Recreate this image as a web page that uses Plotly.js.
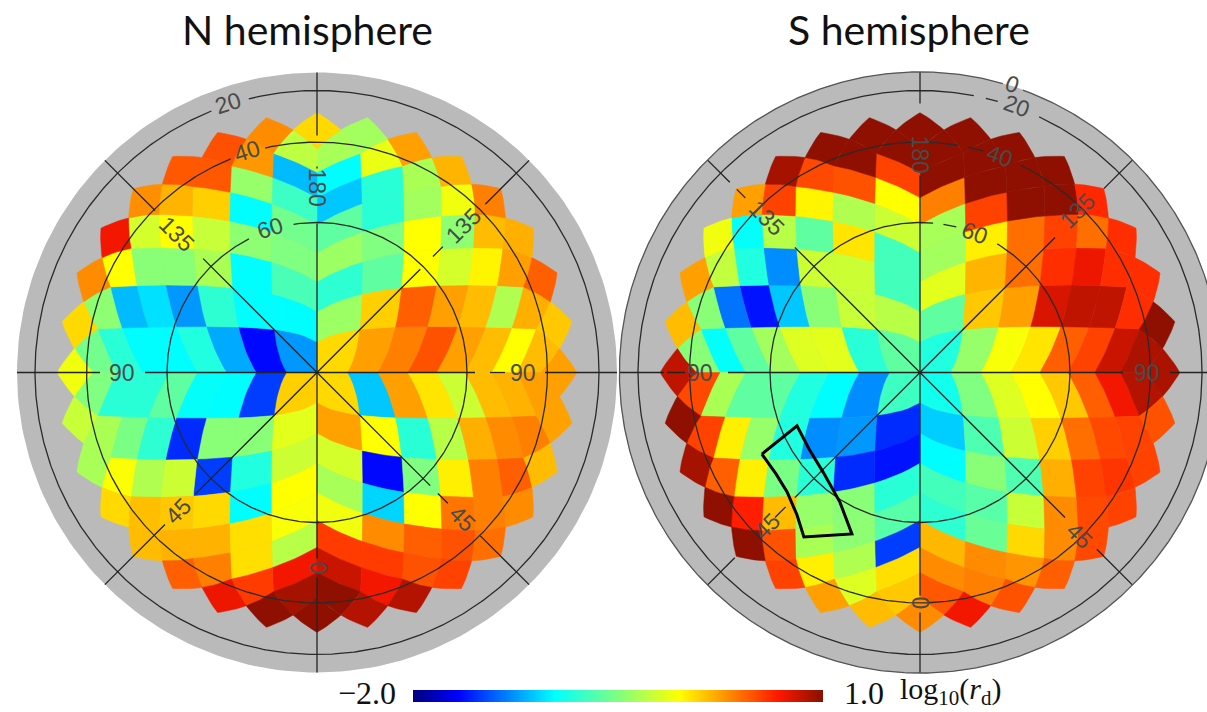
<!DOCTYPE html><html><head><meta charset="utf-8"><script src="https://cdn.plot.ly/plotly-3.0.1.min.js"></script></head><body style="margin:0;overflow:hidden;background:#fff"><div id="g" style="width:1207px;height:712px"></div><script>
// log10(r_d) per map cell, rows outward from the horizontal axis, columns outward from the vertical axis
const nNW=[[-1.25,-1.65,-1.2,-.85,-.97,-.97,-.82,-.55],[-.97,-.97,-.8,-1.25,-1.05,-1.15,-.45,.07],[-.7,-.97,-.35,-.47,-.47,-.05,.31],[-.5,-.45,-.25,-.05,-.2,.7],[-.55,-.97,.1,.18,.3],[-.75,-.42,.47,.47],[-1.15,.27,.5],[-.28,.31]];
const nNE=[[.07,.25,.35,.49,.25,.16,-.05,.16],[-.4,.1,.45,.25,.16,-.33,.2,.12],[-.8,-.62,-.05,-.2,-.02,.25,.45],[-.4,-.5,-.05,-.45,.16,.2],[-.62,-.82,-.38,-.1,.35],[-1.12,-.82,-.35,.18],[-.97,-.12,.25],[-.36,-.38]];
const nSW=[[.1,-1.5,-.97,-.95,-.62,-.82,-.82,-.5],[-.15,-.47,-.47,-1.55,-.8,-.52,-.35,-.25],[-.23,-.85,-1.5,-.23,-.33,-.06,-.36],[-.05,-.97,.07,.12,.15,.07],[-.07,.05,.19,.19,.16],[-.3,.05,.35,.45],[.7,.56,.72],[.92,.98]];
const nSE=[[.07,-1.12,.25,.03,-.23,.16,.19,.25],[.24,-.05,-.82,-.3,.2,.31,.35,.24],[-.2,-1.65,-.5,0,.35,.45,.16],[-.36,-1.08,-.05,.38,.35,.31],[-.1,.31,.45,.49,.4],[.56,.56,.49,.54],[.82,.7,.88],[.98,.88]];
const nTips=[.07,.25,.98,-.1]; // top, right, bottom, left
const sNW=[[-.62,-.82,-.15,-.17,-.38,-.62,-.95,-.47],[-.3,-.25,-.47,-1.12,-1.62,-1.35,-.47,.16],[-.72,-.23,-.23,-1.28,-.85,-.27,.25],[-.72,.03,-.62,-.3,-.95,-.1],[-.23,-.33,-.02,.54,.25],[-.05,.49,.52,.92],[.54,.98,.98],[.98,.98]];
const sNE=[[-.85,-.42,-.07,.03,.45,.54,.82,.9],[-.62,.12,.25,.78,.85,.85,.6,.98],[-.15,.18,.4,.6,.72,.6,.6],[-.38,0,.4,.54,.4,.6],[-.36,.54,.98,.98,.62],[.35,.98,.98,.98],[.98,.98,.98],[.98,.98]];
const sSW=[[-.74,-1.28,-.97,-.85,-.62,-.62,-.35,.52],[-1.55,-1.25,-1.28,-.85,-.42,0,.54,.98],[-1.62,-1.55,-.82,-.52,0,.45,.92],[-.82,-.47,-.42,.16,.65,.98],[-.65,-.45,-.35,.49,.98],[-1.5,-.33,0,.54],[.05,-.17,.25],[.12,.16]];
const sSE=[[-.9,-.5,-.17,-.05,.12,.45,.7,.88],[-1.1,-.68,-.23,.1,.4,.52,.54,.49],[-.97,-.47,-.68,.2,.54,.58,.54],[-.72,-.65,-.25,.31,.52,.54],[-.8,-.58,.07,.31,.52],[.17,.31,.28,.45],[.31,.35,.49],[.47,.7]];
const sTips=[.98,.9,.31,.85];
const jetStops=[[0,'#00007f'],[.11,'#0000ff'],[.345,'#00ffff'],[.5,'#80ff80'],[.65,'#ffff00'],[.89,'#ff1800'],[1,'#881000']];
const boxX=[-.527,-.48,-.443,-.41,-.387,-.227,-.267,-.323,-.37,-.41,-.527];
const boxY=[-.272,-.338,-.398,-.475,-.548,-.538,-.432,-.332,-.255,-.178,-.272];
const vMin=-2,vMax=1;

const PI=Math.PI;
function hex(c){return [1,3,5].map(i=>parseInt(c.substr(i,2),16));}
function colorOf(v){const t=(v-vMin)/(vMax-vMin);for(let i=1;i<jetStops.length;i++){if(t<=jetStops[i][0]){const f=(t-jetStops[i-1][0])/(jetStops[i][0]-jetStops[i-1][0]);const A=hex(jetStops[i-1][1]),B=hex(jetStops[i][1]);return 'rgb('+A.map((a,k)=>Math.round(a+(B[k]-a)*f)).join(',')+')';}}return jetStops[jetStops.length-1][1];}
// HEALPix (Nside 8) plane -> orthographic polar view
function inv(xs,ys){let phi,z;if(ys>PI/4){const f=ys>=PI/2-1e-9?0:(ys-PI/4)/(ys-PI/2);phi=xs-f*(xs-PI/4);z=1-Math.pow(2-4*ys/PI,2)/3;}else{phi=xs;z=8*ys/(3*PI);}const r=Math.sqrt(1-z*z);return [r*Math.cos(phi),r*Math.sin(phi)];}
function pt(p,q){return [PI/4+(q-p)*PI/32,PI/2-(p+q)*PI/32];}
function sample(corners,fn){const X=[],Y=[];for(let i=0;i<corners.length-1;i++){for(let t=0;t<8;t++){const u=corners[i][0]+(corners[i+1][0]-corners[i][0])*t/8,v=corners[i][1]+(corners[i+1][1]-corners[i][1])*t/8;const P=fn(u,v);X.push(P[0]);Y.push(P[1]);}}X.push(X[0]);Y.push(Y[0]);return [X,Y];}
const traces=[];
function poly(X,Y,v,ax){traces.push({type:'scatter',x:X,y:Y,xaxis:ax[0],yaxis:ax[1],mode:'lines',fill:'toself',fillcolor:colorOf(v),line:{color:colorOf(v),width:.5},hoverinfo:'skip'});}
function quadrant(rows,sx,sy,ax){rows.forEach((row,b)=>row.forEach((v,a)=>{const [X,Y]=sample([[a,b],[a+1,b],[a+1,b+1],[a,b+1],[a,b]],(p,q)=>{const s=pt(p,q);return inv(s[0],s[1]);});poly(X.map(u=>u*sx),Y.map(u=>u*sy),v,ax);}));}
const d=PI/32,e=PI/4;
const tipC=[[0,e],[d,e-d],[0,e-2*d],[-d,e-d],[0,e]];
function tips(vals,ax){const fns=[(P)=>[P[1],P[0]],(P)=>[P[0],P[1]],(P)=>[P[1],-P[0]],(P)=>[-P[0],P[1]]];vals.forEach((v,i)=>{const [X,Y]=sample(tipC,(u,w)=>fns[i](inv(u,w)));poly(X,Y,v,ax);});}
function disk(rad,ax){const X=[],Y=[];for(let i=0;i<=240;i++){const t=i/240*2*PI;X.push(rad*Math.cos(t));Y.push(rad*Math.sin(t));}traces.push({type:'scatter',x:X,y:Y,xaxis:ax[0],yaxis:ax[1],mode:'lines',fill:'toself',fillcolor:'#bababa',line:{color:'#bababa',width:0},hoverinfo:'skip'});}
function arcs(r,gaps,ax,col){const X=[],Y=[];for(let a=0;a<=360;a+=.5){const g=gaps.some(h=>a>h[0]&&a<h[1]);X.push(g?null:r*Math.cos(a*PI/180));Y.push(g?null:r*Math.sin(a*PI/180));}traces.push({type:'scatter',x:X,y:Y,xaxis:ax[0],yaxis:ax[1],mode:'lines',line:{color:col||'#2a2a2a',width:1.3},hoverinfo:'skip',connectgaps:false});}
function spoke(ang,segs,ax){const c=Math.cos(ang*PI/180),s=Math.sin(ang*PI/180),X=[],Y=[];segs.forEach(g=>{X.push(g[0]*c,g[1]*c,null);Y.push(g[0]*s,g[1]*s,null);});traces.push({type:'scatter',x:X,y:Y,xaxis:ax[0],yaxis:ax[1],mode:'lines',line:{color:'#222',width:1.3},hoverinfo:'skip'});}
const A=['x','y'],B=['x2','y2'],P=300;
const f=px=>px/P;
// North panel
disk(1,A);[[nNE,1,1],[nNW,-1,1],[nSW,-1,-1],[nSE,1,-1]].forEach(q=>quadrant(q[0],q[1],q[2],A));tips(nTips,A);
arcs(.94,[[104,112]],A);arcs(.768,[[103,112]],A);arcs(.5,[[99,117]],A);
spoke(0,[[0,f(158)],[f(173),f(188)],[f(228),1]],A);spoke(180,[[0,f(172)],[f(217),1]],A);
spoke(90,[[0,f(149)],[f(204),f(206)],[f(237),1]],A);spoke(270,[[0,f(186)],[f(205),1]],A);
spoke(135,[[0,f(161)],[f(229),1]],A);spoke(45,[[0,f(146)],[f(164),f(178)],[f(238),1]],A);
spoke(315,[[0,f(160)],[f(171),f(185)],[f(231),1]],A);spoke(225,[[0,f(172)],[f(215),1]],A);
// South panel
disk(1.003,B);[[sNE,1,1],[sNW,-1,1],[sSW,-1,-1],[sSE,1,-1]].forEach(q=>quadrant(q[0],q[1],q[2],B));tips(sTips,B);
arcs(1.002,[[70,74]],B,'#555');arcs(.94,[[65,74],[76.5,79]],B);arcs(.768,[[64,74],[78,80.5]],B);arcs(.5,[[59,76],[81,85]],B);
spoke(0,[[0,f(203)],[f(250),1]],B);spoke(180,[[0,f(192)],[f(235),f(253)],[f(256),1]],B);
spoke(90,[[0,f(197)],[f(269),1]],B);spoke(270,[[0,f(223)],[f(240),1]],B);
spoke(135,[[0,f(177)],[f(247),f(259)],[f(269),1]],B);spoke(45,[[0,f(191)],[f(260),1]],B);
spoke(225,[[0,f(177)],[f(190),f(205)],[f(262),1]],B);spoke(315,[[0,f(205)],[f(250),1]],B);
traces.push({type:'scatter',x:boxX,y:boxY,xaxis:'x2',yaxis:'y2',mode:'lines',line:{color:'#000',width:3},hoverinfo:'skip'});
// colour bar
traces.push({type:'scatter',x:[9,9],y:[9,9],xaxis:'x',yaxis:'y',mode:'markers',hoverinfo:'skip',marker:{color:[vMin,vMax],cmin:vMin,cmax:vMax,colorscale:jetStops,showscale:true,colorbar:{orientation:'h',x:618/1207,xanchor:'center',xref:'paper',y:1-696/712,yanchor:'middle',yref:'paper',len:410,lenmode:'pixels',thickness:12,thicknessmode:'pixels',outlinewidth:0,showticklabels:false,ticks:'',xpad:0,ypad:0,bgcolor:'rgba(0,0,0,0)'}}});
const W=1207,H=712,cxN=317,cxS=920,cy=372.5,split=617.5;
function lab(text,x,y,rot,ax){return {text,x,y,xref:ax[0],yref:ax[1],textangle:rot,showarrow:false,font:{family:'Liberation Sans',size:23,color:'#4a4a4a'}};}
const ann=[
['20',-89,270,-18,A],['40',-70,222,-18,A],['60',-47,145,-18,A],['180',0,185,90,A],['0',1,-195,90,A],
['135',-140,139,45,A],['135',146,147,-45,A],['45',-139,-138,-45,A],['45',146,-146,45,A],['90',-195,0,0,A],['90',206,0,0,A],
['0',92,289,20,B],['20',97,267,20,B],['40',80,217,20,B],['60',55,140,20,B],['180',0,218,90,B],['0',0,-230,90,B],
['135',-153,155,45,B],['135',157,162,-45,B],['45',-153,-153,-45,B],['45',160,-163,45,B],['90',-220,0,0,B],['90',227,0,0,B]
].map(a=>lab(a[0],a[1]/P,a[2]/P,a[3],a[4]));
const px=(x,y,text,size,fam,anchor)=>({text,x:x/W,y:1-y/H,xref:'paper',yref:'paper',xanchor:anchor||'center',yanchor:'middle',showarrow:false,font:{family:fam,size,color:'#111'}});
ann.push(px(307.5,29,'N hemisphere',41,'Lato'),px(909,29,'S hemisphere',41,'Lato'));
ann.push(px(398,693,'−2.0',32,'Liberation Serif','right'),px(842,693,'1.0',32,'Liberation Serif','left'),px(898,691,'log<sub>10</sub>(<i>r</i><sub>d</sub>)',30,'Liberation Serif','left'));
const yr=[-(H-cy)/P,cy/P];
const layout={width:W,height:H,margin:{l:0,r:0,t:0,b:0,autoexpand:false},showlegend:false,paper_bgcolor:'#fff',plot_bgcolor:'rgba(0,0,0,0)',
xaxis:{domain:[0,split/W],range:[-cxN/P,(split-cxN)/P],visible:false,fixedrange:true},
yaxis:{range:yr,visible:false,fixedrange:true},
xaxis2:{domain:[split/W,1],range:[(split-cxS)/P,(W-cxS)/P],visible:false,fixedrange:true},
yaxis2:{range:yr,visible:false,fixedrange:true},annotations:ann};
Plotly.newPlot('g',traces,layout,{staticPlot:true});
</script></body></html>
